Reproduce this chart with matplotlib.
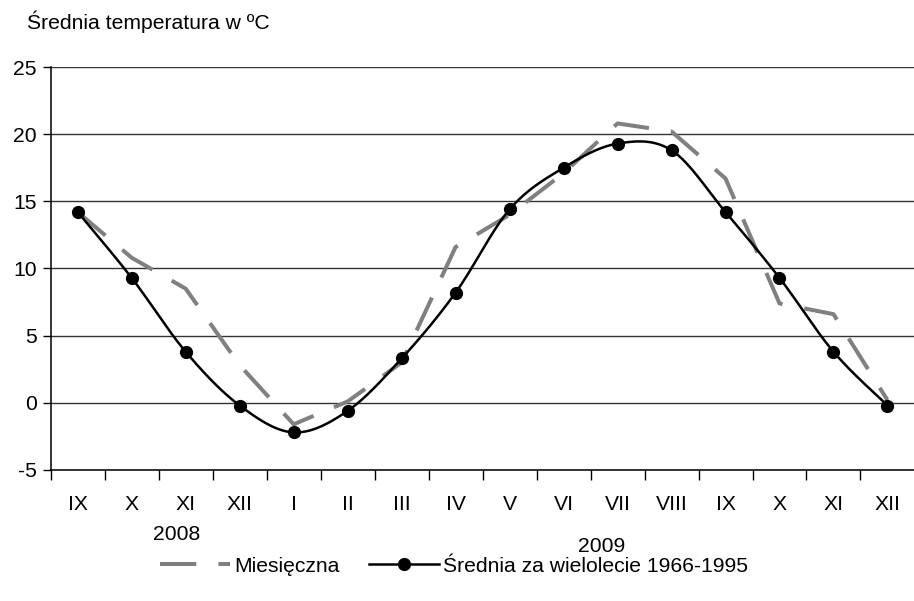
import numpy as np
import matplotlib

matplotlib.use("Agg")
import matplotlib.pyplot as plt
from matplotlib.lines import Line2D

################################################################################

MONTHS = ["IX", "X", "XI", "XII", "I", "II", "III", "IV",
          "V", "VI", "VII", "VIII", "IX", "X", "XI", "XII"]
MONTHLY = [14.2, 10.8, 8.5, 2.8, -1.6, 0.1, 3.0, 11.6,
           14.0, 17.1, 20.8, 20.2, 16.7, 7.4, 6.6, 0.2]
LONG_TERM = [14.2, 9.3, 3.8, -0.2, -2.2, -0.6, 3.3, 8.2,
             14.4, 17.5, 19.3, 18.8, 14.2, 9.3, 3.8, -0.2]
YEARS = ["2008", "2009"]
YEAR_POS = [1.84, 9.71]

plt.rcParams["font.family"] = ["Liberation Sans", "DejaVu Sans"]
plt.rcParams["axes.unicode_minus"] = False
FS = 15.2

################################################################################


def smooth(x, y, steps=20):
    # Excel style smoothed line: cubic bezier, control points at 1/6 of the neighbours
    x = np.asarray(x, float)
    y = np.asarray(y, float)
    px = np.concatenate([[x[0]], x, [x[-1]]])
    py = np.concatenate([[y[0]], y, [y[-1]]])
    out_x, out_y = [], []
    t = np.linspace(0, 1, steps)
    for i in range(1, len(px) - 2):
        p0 = np.array([px[i], py[i]])
        p3 = np.array([px[i + 1], py[i + 1]])
        c1 = p0 + (np.array([px[i + 1], py[i + 1]]) - np.array([px[i - 1], py[i - 1]])) / 6
        c2 = p3 - (np.array([px[i + 2], py[i + 2]]) - np.array([px[i], py[i]])) / 6
        pts = ((1 - t) ** 3)[:, None] * p0 + (3 * (1 - t) ** 2 * t)[:, None] * c1 \
            + (3 * (1 - t) * t ** 2)[:, None] * c2 + (t ** 3)[:, None] * p3
        out_x.extend(pts[:, 0])
        out_y.extend(pts[:, 1])
    return out_x, out_y


def main():
    fig = plt.figure(figsize=(9.14, 6.01), dpi=100)
    ax = fig.add_axes([0.0555, 0.218, 0.945, 0.6705])
    x = np.arange(len(MONTHS))
    ##
    ax.set_xlim(-0.5, len(MONTHS) - 0.5)
    ax.set_ylim(-5, 25)
    ax.set_yticks(range(-5, 26, 5))
    ax.yaxis.grid(True, color="#333333", lw=1)
    ax.set_axisbelow(True)
    for s in ["top", "right"]:
        ax.spines[s].set_visible(False)
    ax.spines["left"].set_linewidth(1.1)
    ax.spines["bottom"].set_linewidth(1.1)
    ax.tick_params(axis="y", length=6, width=1, labelsize=FS, pad=4)
    ##
    ax.set_xticks(np.arange(-0.5, len(MONTHS) - 0.5, 1))
    ax.set_xticklabels([])
    ax.set_xticks(x, minor=True)
    ax.set_xticklabels(MONTHS, minor=True)
    ax.tick_params(axis="x", which="major", length=7, width=1)
    ax.tick_params(axis="x", which="minor", length=0, labelsize=FS, pad=18)
    ##
    ax.plot(x, MONTHLY, color="#808080", lw=2.9, ls=(0, (9, 5.5)),
            solid_joinstyle="miter", dash_capstyle="butt", zorder=3)
    sx, sy = smooth(x, LONG_TERM)
    ax.plot(sx, sy, color="black", lw=1.8, zorder=4)
    ax.plot(x, LONG_TERM, ls="none", marker="o", ms=8.5, color="black", zorder=5)
    ##
    for year, pos, yy in zip(YEARS, YEAR_POS, [-0.161, -0.191]):
        ax.text(pos, yy, year, transform=ax.get_xaxis_transform(),
                ha="center", va="center", fontsize=FS)
    ##
    fig.text(0.03, 0.963, "Średnia temperatura w ºC", fontsize=FS, va="center")
    ##
    handles = [
        Line2D([], [], color="#808080", lw=2.9, ls=(0, (9, 5.5))),
        Line2D([], [], color="black", lw=1.8, marker="o", ms=8.5),
    ]
    fig.legend(handles, ["Miesięczna", "Średnia za wielolecie 1966-1995"],
               loc="center", bbox_to_anchor=(0.497, 0.058), ncol=2,
               frameon=False, fontsize=FS, handlelength=3.3,
               handletextpad=0.2, columnspacing=1.4)
    ##
    fig.savefig("out.png", dpi=100)


################################################################################

main()
